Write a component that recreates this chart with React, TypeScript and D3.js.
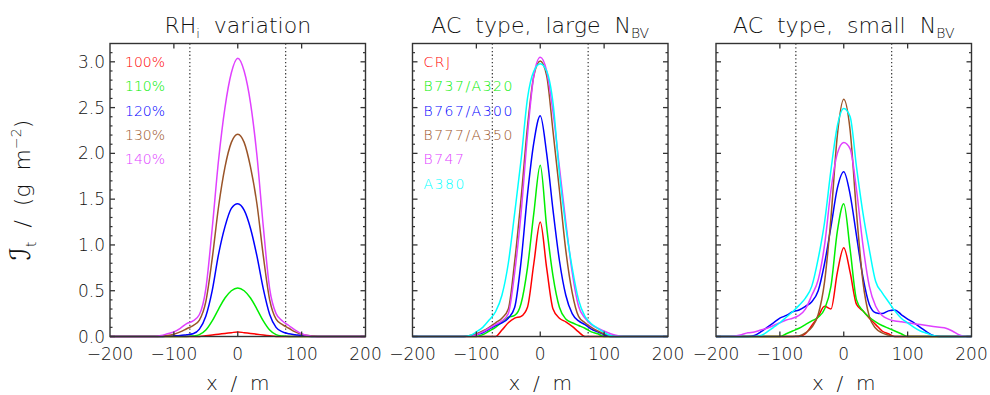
import React from 'react';
import * as d3 from 'd3';

// x positions (m) shared by every profile
const X_GRID = [
  -200, -190, -180, -170, -160, -150, -140, -130, -120, -110,
  -100, -90, -80, -70, -60, -50, -40, -30, -20, -10,
  0,
  10, 20, 30, 40, 50, 60, 70, 80, 90, 100,
  110, 120, 130, 140, 150, 160, 170, 180, 190, 200,
];

// Panel 1: RHi variation
const RH_LABELS = ['100%', '110%', '120%', '130%', '140%'];
const RH100 = [
  0, 0, 0, 0, 0, 0, 0, 0, 0, 0,
  0, 0, 0, 0, 0, 0.008, 0.016, 0.025, 0.033, 0.042,
  0.05,
  0.042, 0.033, 0.025, 0.016, 0.008, 0, 0, 0, 0, 0,
  0, 0, 0, 0, 0, 0, 0, 0, 0, 0,
];
const RH110 = [
  0, 0, 0, 0, 0, 0, 0, 0, 0, 0,
  0, 0, 0, 0.005, 0.02, 0.07, 0.17, 0.3, 0.42, 0.5,
  0.53,
  0.5, 0.42, 0.3, 0.17, 0.07, 0.02, 0.005, 0, 0, 0,
  0, 0, 0, 0, 0, 0, 0, 0, 0, 0,
];
const RH120 = [
  0, 0, 0, 0, 0, 0, 0, 0, 0, 0.003,
  0.006, 0.01, 0.02, 0.03, 0.08, 0.22, 0.5, 0.9, 1.2, 1.4,
  1.45,
  1.38, 1.18, 0.88, 0.52, 0.24, 0.1, 0.05, 0.03, 0.02, 0.01,
  0.003, 0, 0, 0, 0, 0, 0, 0, 0, 0,
];
const RH130 = [
  0, 0, 0, 0, 0, 0, 0, 0, 0.003, 0.01,
  0.025, 0.05, 0.085, 0.12, 0.18, 0.38, 0.85, 1.42, 1.85, 2.12,
  2.21,
  2.12, 1.85, 1.45, 0.88, 0.4, 0.19, 0.13, 0.09, 0.05, 0.025,
  0.01, 0.003, 0, 0, 0, 0, 0, 0, 0, 0,
];
const RH140 = [
  0, 0, 0, 0, 0, 0, 0, 0, 0.01, 0.03,
  0.05, 0.09, 0.14, 0.17, 0.24, 0.52, 1.18, 1.93, 2.5, 2.88,
  3.04,
  2.9, 2.55, 1.98, 1.2, 0.52, 0.25, 0.17, 0.12, 0.07, 0.03,
  0.01, 0, 0, 0, 0, 0, 0, 0, 0, 0,
];

// Panel 2: AC type, large N_BV
const AC_LABELS = ['CRJ', 'B737/A320', 'B767/A300', 'B777/A350', 'B747', 'A380'];
const L_CRJ = [
  0, 0, 0, 0, 0, 0, 0, 0, 0, 0,
  0, 0, 0, 0, 0.07, 0.15, 0.2, 0.22, 0.32, 0.8,
  1.25,
  0.75, 0.3, 0.2, 0.16, 0.11, 0.05, 0, 0, 0, 0,
  0, 0, 0, 0, 0, 0, 0, 0, 0, 0,
];
const L_B737 = [
  0, 0, 0, 0, 0, 0, 0, 0, 0, 0,
  0, 0.02, 0.06, 0.1, 0.16, 0.21, 0.23, 0.36, 0.75, 1.35,
  1.87,
  1.2, 0.66, 0.32, 0.19, 0.15, 0.12, 0.09, 0.05, 0.03, 0,
  0, 0, 0, 0, 0, 0, 0, 0, 0, 0,
];
const L_B767 = [
  0, 0, 0, 0, 0, 0, 0, 0, 0, 0.005,
  0.02, 0.04, 0.08, 0.12, 0.15, 0.2, 0.32, 0.82, 1.55, 2.12,
  2.41,
  2.0, 1.38, 0.83, 0.45, 0.25, 0.17, 0.13, 0.08, 0.05, 0.02,
  0, 0, 0, 0, 0, 0, 0, 0, 0, 0,
];
const L_B777 = [
  0, 0, 0, 0, 0, 0, 0, 0, 0, 0.01,
  0.03, 0.06, 0.1, 0.15, 0.2, 0.3, 0.82, 1.51, 2.29, 2.85,
  3.01,
  2.85, 2.24, 1.6, 0.94, 0.48, 0.22, 0.15, 0.1, 0.06, 0.03,
  0.01, 0, 0, 0, 0, 0, 0, 0, 0, 0,
];
const L_B747 = [
  0, 0, 0, 0, 0, 0, 0, 0, 0, 0,
  0.02, 0.05, 0.09, 0.13, 0.17, 0.25, 0.7, 1.35, 2.2, 2.85,
  3.05,
  2.9, 2.45, 1.85, 1.25, 0.7, 0.33, 0.2, 0.13, 0.09, 0.06,
  0.03, 0.01, 0, 0, 0, 0, 0, 0, 0, 0,
];
const L_A380 = [
  0, 0, 0, 0, 0, 0, 0, 0, 0, 0.01,
  0.05, 0.1, 0.18, 0.27, 0.45, 0.8, 1.35, 1.93, 2.6, 2.9,
  2.98,
  2.9, 2.55, 1.78, 1.2, 0.75, 0.4, 0.22, 0.14, 0.09, 0.045,
  0.01, 0, 0, 0, 0, 0, 0, 0, 0, 0,
];

// Panel 3: AC type, small N_BV
const S_CRJ = [
  0, 0, 0, 0, 0, 0, 0, 0, 0, 0,
  0, 0, 0, 0, 0.03, 0.12, 0.22, 0.33, 0.3, 0.7,
  0.97,
  0.7, 0.35, 0.28, 0.2, 0.13, 0.06, 0.03, 0, 0, 0,
  0, 0, 0, 0, 0, 0, 0, 0, 0, 0,
];
const S_B737 = [
  0, 0, 0, 0, 0, 0, 0, 0, 0, 0,
  0, 0.03, 0.06, 0.09, 0.13, 0.17, 0.21, 0.3, 0.55, 1.15,
  1.45,
  0.95, 0.4, 0.28, 0.21, 0.16, 0.12, 0.09, 0.06, 0.03, 0,
  0, 0, 0, 0, 0, 0, 0, 0, 0, 0,
];
const S_B767 = [
  0, 0, 0, 0, 0, 0, 0.01, 0.05, 0.1, 0.15,
  0.2, 0.23, 0.27, 0.29, 0.33, 0.38, 0.5, 0.8, 1.2, 1.62,
  1.8,
  1.55, 1.1, 0.65, 0.35, 0.26, 0.25, 0.28, 0.29, 0.24, 0.19,
  0.15, 0.1, 0.05, 0.01, 0, 0, 0, 0, 0, 0,
];
const S_B777 = [
  0, 0, 0, 0, 0, 0, 0, 0, 0, 0,
  0, 0, 0, 0.005, 0.04, 0.1, 0.24, 0.6, 1.3, 2.2,
  2.59,
  2.25, 1.35, 0.6, 0.22, 0.09, 0.04, 0.015, 0, 0, 0,
  0, 0, 0, 0, 0, 0, 0, 0, 0, 0,
];
const S_B747 = [
  0, 0, 0, 0.005, 0.02, 0.04, 0.05, 0.07, 0.09, 0.12,
  0.15, 0.18, 0.2, 0.23, 0.3, 0.45, 0.62, 1.0, 1.6, 2.0,
  2.12,
  2.05, 1.6, 1.0, 0.55, 0.33, 0.23, 0.19, 0.17, 0.16, 0.15,
  0.14, 0.13, 0.12, 0.11, 0.1, 0.09, 0.06, 0.02, 0, 0,
];
const S_A380 = [
  0, 0, 0, 0, 0, 0, 0, 0.01, 0.05, 0.1,
  0.15, 0.21, 0.27, 0.34, 0.42, 0.55, 0.85, 1.25, 1.82, 2.3,
  2.49,
  2.4, 1.85, 1.35, 0.95, 0.6, 0.48, 0.38, 0.28, 0.2, 0.15,
  0.1, 0.06, 0.035, 0.01, 0, 0, 0, 0, 0, 0,
];

const COLORS = ['#ff0000', '#00ee00', '#0000ff', '#9a5428', '#e040ff', '#00ffff'];
const X_TICKS = [-200, -100, 0, 100, 200];
const X_MAJOR_TICKS = [-100, 0, 100];
const Y_TICKS = [0, 0.5, 1.0, 1.5, 2.0, 2.5, 3.0];
const Y_MINOR = [0.1, 0.2, 0.3, 0.4, 0.6, 0.7, 0.8, 0.9, 1.1, 1.2, 1.3, 1.4, 1.6, 1.7, 1.8, 1.9,
  2.1, 2.2, 2.3, 2.4, 2.6, 2.7, 2.8, 2.9, 3.1];
const VLINES = [-75, 75];

const FONT = '"DejaVu Sans", sans-serif';
const INK = '#111';

type Panel = {
  left: number;
  title: React.ReactNode;
  labels: string[];
  legendSpacing: number;
  series: number[][];
  legendX: number;
  yLabels: boolean;
};

const PANELS: Panel[] = [
  {
    left: 110,
    title: (
      <>
        RH<tspan fontSize={13} dy={5}>i</tspan><tspan dy={-5}>{'  variation'}</tspan>
      </>
    ),
    labels: RH_LABELS,
    legendSpacing: 0,
    series: [RH100, RH110, RH120, RH130, RH140],
    legendX: 125,
    yLabels: true,
  },
  {
    left: 412.5,
    title: (
      <>
        {'AC  type,  large  N'}<tspan fontSize={14} dy={5}>BV</tspan>
      </>
    ),
    labels: AC_LABELS,
    legendSpacing: 1.5,
    series: [L_CRJ, L_B737, L_B767, L_B777, L_B747, L_A380],
    legendX: 423.5,
    yLabels: false,
  },
  {
    left: 716,
    title: (
      <>
        {'AC  type,  small  N'}<tspan fontSize={14} dy={5}>BV</tspan>
      </>
    ),
    labels: [],
    legendSpacing: 0,
    series: [S_CRJ, S_B737, S_B767, S_B777, S_B747, S_A380],
    legendX: 727,
    yLabels: false,
  },
];

const PW = 255.5;
const TOP = 43.5;
const BOTTOM = 336.5;

export default function App() {
  const y = d3.scaleLinear().domain([0, 3.2]).range([BOTTOM, TOP]);
  return (
    <svg
      width={990}
      height={395}
      style={{ position: 'absolute', left: 0, top: 0, background: '#fff' }}
      fontFamily={FONT}
      fontWeight={200}
    >
      <rect x={0} y={0} width={990} height={395} fill="#fff" />
      {PANELS.map((p, pi) => {
        const x = d3.scaleLinear().domain([-200, 200]).range([p.left, p.left + PW]);
        const line = d3
          .line<number>()
          .x((_, i) => x(X_GRID[i]))
          .y((d) => y(d))
          .curve(d3.curveMonotoneX);
        const cx = x(0);
        return (
          <g key={pi}>
            {/* title */}
            <text x={cx} y={33} textAnchor="middle" fontSize={22} fill={INK} style={{ whiteSpace: 'pre' }}>
              {p.title}
            </text>
            {/* dotted lines */}
            {VLINES.map((v) => (
              <line key={v} x1={x(v)} x2={x(v)} y1={TOP} y2={BOTTOM} stroke="#333" strokeWidth={1.2} strokeDasharray="1.3,2.4" />
            ))}
            {/* series */}
            {p.series.map((s, si) => (
              <path key={si} d={line(s) || ''} fill="none" stroke={COLORS[si]} strokeWidth={1.5} strokeLinejoin="round" />
            ))}
            {/* frame */}
            <rect x={p.left} y={TOP} width={PW} height={BOTTOM - TOP} fill="none" stroke="#333" strokeWidth={1.4} />
            {/* x ticks */}
            {X_MAJOR_TICKS.map((t) => (
              <g key={t}>
                <line x1={x(t)} x2={x(t)} y1={BOTTOM} y2={BOTTOM - 5} stroke="#333" strokeWidth={1.3} />
                <line x1={x(t)} x2={x(t)} y1={TOP} y2={TOP + 5} stroke="#333" strokeWidth={1.3} />
              </g>
            ))}
            {X_TICKS.map((t) => (
              <text key={t} x={x(t)} y={360} textAnchor="middle" fontSize={17} fill={INK} style={{ whiteSpace: 'pre' }}>
                {t < 0 ? '\u2212' + Math.abs(t) : String(t)}
              </text>
            ))}
            {/* y ticks */}
            {Y_TICKS.map((t) => (
              <g key={t}>
                <line x1={p.left} x2={p.left + 5} y1={y(t)} y2={y(t)} stroke="#333" strokeWidth={1.3} />
                <line x1={p.left + PW} x2={p.left + PW - 5} y1={y(t)} y2={y(t)} stroke="#333" strokeWidth={1.3} />
                {p.yLabels && (
                  <text x={p.left - 5} y={y(t)} dy="0.36em" textAnchor="end" fontSize={17} fill={INK}>
                    {t.toFixed(1)}
                  </text>
                )}
              </g>
            ))}
            {Y_MINOR.map((t) => (
              <g key={t}>
                <line x1={p.left} x2={p.left + 2.5} y1={y(t)} y2={y(t)} stroke="#333" strokeWidth={1.2} />
                <line x1={p.left + PW} x2={p.left + PW - 2.5} y1={y(t)} y2={y(t)} stroke="#333" strokeWidth={1.2} />
              </g>
            ))}
            {/* legend */}
            {p.labels.map((l, li) => (
              <text
                key={l}
                x={p.legendX}
                y={y(3.0) + li * 24.4}
                dy="0.36em"
                fontSize={14}
                fontWeight={300}
                letterSpacing={p.legendSpacing}
                fill={COLORS[li]}
              >
                {l}
              </text>
            ))}
            {/* x label */}
            <text x={cx} y={390} textAnchor="middle" fontSize={20} fill={INK} style={{ whiteSpace: 'pre' }}>
              {'x  /  m'}
            </text>
          </g>
        );
      })}
      {/* y label */}
      <text
        transform={`translate(30, ${(TOP + BOTTOM) / 2}) rotate(-90)`}
        textAnchor="middle"
        fontSize={22}
        fill={INK}
        style={{ whiteSpace: 'pre' }}
      >
        <tspan fontStyle="italic" fontSize={28}>{'\u2110'}</tspan>
        <tspan fontSize={14} dy={6}>t</tspan>
        <tspan dy={-6}>{'  /  (g  m'}</tspan>
        <tspan fontSize={14} dy={-9}>{'\u22122'}</tspan>
        <tspan dy={9}>)</tspan>
      </text>
    </svg>
  );
}
